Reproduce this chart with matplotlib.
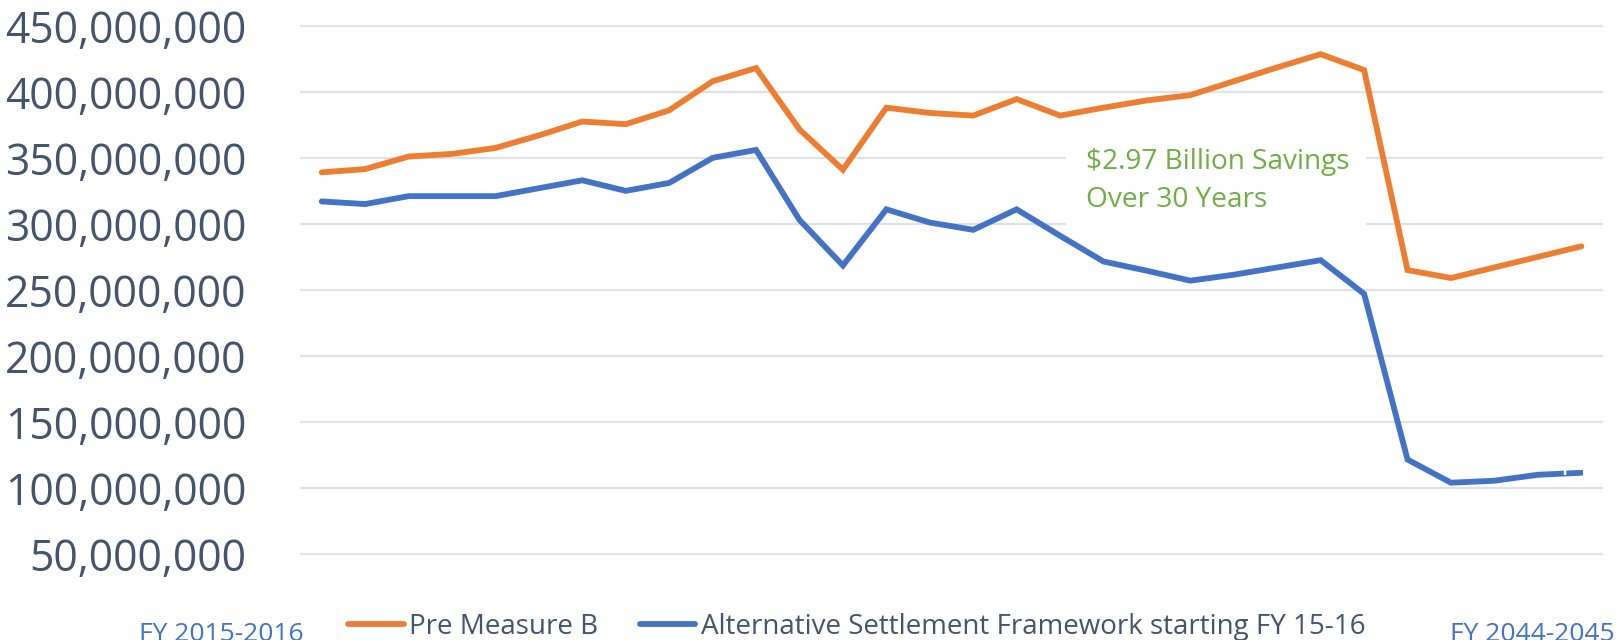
import matplotlib
matplotlib.use("Agg")
import matplotlib.pyplot as plt
from matplotlib.patches import Rectangle
from matplotlib.ticker import FuncFormatter

# ---- data ----
years = [f"FY {y}-{y+1}" for y in range(2015, 2045)]
pre_measure_b = [339, 341.5, 351, 353, 357.5, 367, 377.5, 375.5, 386, 408,
                 418, 371.5, 341, 388, 384, 382, 394.5, 382, 388, 393.5,
                 397.5, 408, 418.5, 428.5, 416.5, 265, 259, 267, 275, 283]
alt_framework = [317, 315, 321, 321, 321, 327, 333, 325, 331, 350,
                 356, 303, 268.5, 311, 301, 295.5, 311, 291, 271.5, 264.5,
                 257, 261.5, 267, 272.5, 247, 121.5, 104, 105.5, 110, 111.5]
pre_measure_b = [v * 1e6 for v in pre_measure_b]
alt_framework = [v * 1e6 for v in alt_framework]
yticks = [50e6, 100e6, 150e6, 200e6, 250e6, 300e6, 350e6, 400e6, 450e6]
series_names = ["Pre Measure B", "Alternative Settlement Framework starting FY 15-16"]
annotation = ["$2.97 Billion Savings", "Over 30 Years"]

ORANGE = "#ED7D31"
BLUE = "#4472C4"
GREEN = "#70AD47"
SLATE = "#44546A"
GRID = "#DDE1E8"

plt.rcParams['font.family'] = ['Open Sans', 'DejaVu Sans']

W, H = 1621, 640
fig = plt.figure(figsize=(W / 100, H / 100), dpi=100)

# axes placement (pixel based)
left_px, right_px = 300, 1603
ymin, ymax = 45e6, 455e6
px_per_unit = 66.03 / 50e6
top_px = 25.8 - (ymax - 450e6) * px_per_unit
bot_px = 554.0 + (50e6 - ymin) * px_per_unit
ax = fig.add_axes([left_px / W, 1 - bot_px / H, (right_px - left_px) / W, (bot_px - top_px) / H])

x = list(range(len(years)))
l1, = ax.plot(x, pre_measure_b, color=ORANGE, lw=4.2, solid_capstyle='round', solid_joinstyle='miter', zorder=3)
l2, = ax.plot(x, alt_framework, color=BLUE, lw=4.2, solid_capstyle='round', solid_joinstyle='miter', zorder=3)

ax.set_xlim(-0.5, len(years) - 0.5)
ax.set_ylim(ymin, ymax)
ax.set_yticks(yticks)
ax.yaxis.set_major_formatter(FuncFormatter(lambda v, p: f"{int(round(v)):,}"))
ax.set_xticks([])
ax.grid(axis='y', color=GRID, lw=1.6)
ax.set_axisbelow(True)
for s in ax.spines.values():
    s.set_visible(False)
ax.tick_params(axis='y', length=0, pad=38.5, labelsize=30.7, labelcolor=SLATE)

# annotation white box + text
ax.add_patch(Rectangle((1066 / W, 1 - 236 / H), 300 / W, 108 / H, transform=fig.transFigure,
                       facecolor='white', edgecolor='none', zorder=1))
fig.text(1086 / W, 1 - 169.3 / H, annotation[0], color=GREEN, fontsize=20.2, va='baseline', ha='left')
fig.text(1086 / W, 1 - 206.7 / H, annotation[1], color=GREEN, fontsize=20.2, va='baseline', ha='left')

# hidden white label near last point
fig.text(1561 / W, 1 - 475 / H, years[-1], color='white', fontsize=21, va='baseline', ha='left')

# category labels at bottom
fig.text(221 / W, 1 - 641 / H, years[0], color=BLUE, fontsize=19, va='baseline', ha='center')
fig.text(1532 / W, 1 - 641 / H, years[-1], color=BLUE, fontsize=19, va='baseline', ha='center')

# legend
leg = fig.legend([l1, l2], series_names, loc='center left', bbox_to_anchor=(348 / W, 1 - 627 / H),
                 ncol=2, frameon=False, fontsize=20, handlelength=2.0, handletextpad=0.2,
                 columnspacing=1.5, borderpad=0, borderaxespad=0)
for t in leg.get_texts():
    t.set_color(SLATE)

fig.savefig("out.png", dpi=100, facecolor='white')
